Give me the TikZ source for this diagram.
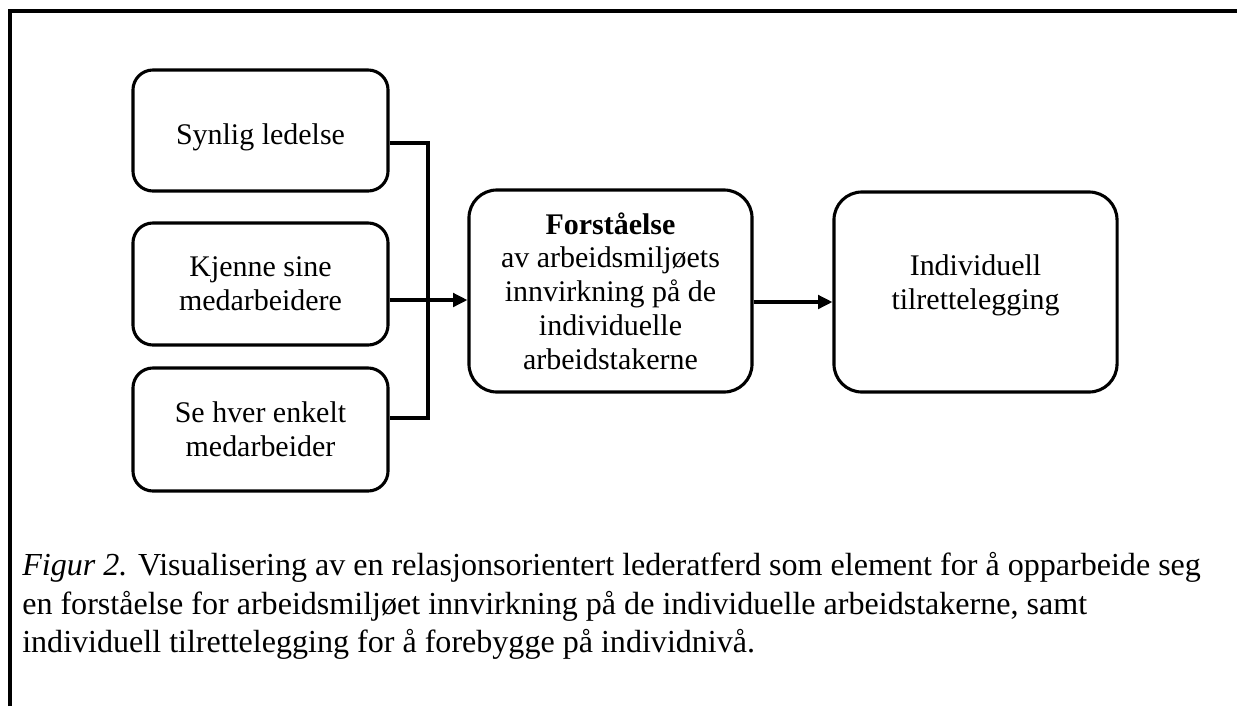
\documentclass[tikz,border=0pt]{standalone}
\usepackage{fontspec}
\setmainfont{Liberation Serif}
\usetikzlibrary{arrows.meta}
\begin{document}
\begin{tikzpicture}[
    x=0.025cm, y=-0.025cm,
    every node/.style={font=\fontsize{21.3pt}{24pt}\selectfont, align=center},
    smallbox/.style={draw, line width=2.2pt, rounded corners=0.5cm, minimum width=6.375cm, inner sep=0pt},
    bigbox/.style={draw, line width=2.2pt, rounded corners=0.7cm, minimum width=7.075cm, inner sep=0pt},
    link/.style={line width=2.2pt},
    arrowlink/.style={line width=2.2pt, -{Triangle[length=0.36cm, width=0.34cm]}}
]
\useasboundingbox (0,0) rectangle (1237,706);
% frame
\draw[line width=2.2pt] (10,706) -- (10,11) -- (1237,11);
% left column
\node[smallbox, minimum height=3.025cm, text height=25pt, text depth=5pt] (syn) at (260.5,130.5) {Synlig ledelse};
\node[smallbox, minimum height=3.05cm] (kje) at (260.5,284) {Kjenne sine\\medarbeidere};
\node[smallbox, minimum height=3.075cm] (se) at (260.5,429.5) {Se hver enkelt\\medarbeider};
% middle and right
\node[bigbox, minimum height=5.05cm] (forst) at (610.5,291)
    {\textbf{Forståelse}\\av arbeidsmiljøets\\innvirkning på de\\individuelle\\arbeidstakerne};
\node[bigbox, minimum height=5.0cm, text depth=14pt] (indiv) at (975.5,292) {Individuell\\tilrettelegging};
% connectors
\coordinate (jt) at (428,143);
\coordinate (jm) at (428,300);
\coordinate (jb) at (428,418);
\coordinate (ma) at (793,302);
\draw[link] (syn.east |- jt) -- (jt) -- (jb) -- (se.east |- jb);
\draw[arrowlink] (kje.east |- jm) -- (forst.west |- jm);
\draw[arrowlink] (forst.east |- ma) -- (indiv.west |- ma);
% caption
\node[anchor=north west, align=left, inner sep=0pt, font=\fontsize{22.8pt}{27.4pt}\selectfont] (cap) at (22,552)
    {\textit{Figur 2.} Visualisering av en relasjonsorientert lederatferd som element for å opparbeide seg\\
     en forståelse for arbeidsmiljøet innvirkning på de individuelle arbeidstakerne, samt\\
     individuell tilrettelegging for å forebygge på individnivå.};
\end{tikzpicture}
\end{document}
